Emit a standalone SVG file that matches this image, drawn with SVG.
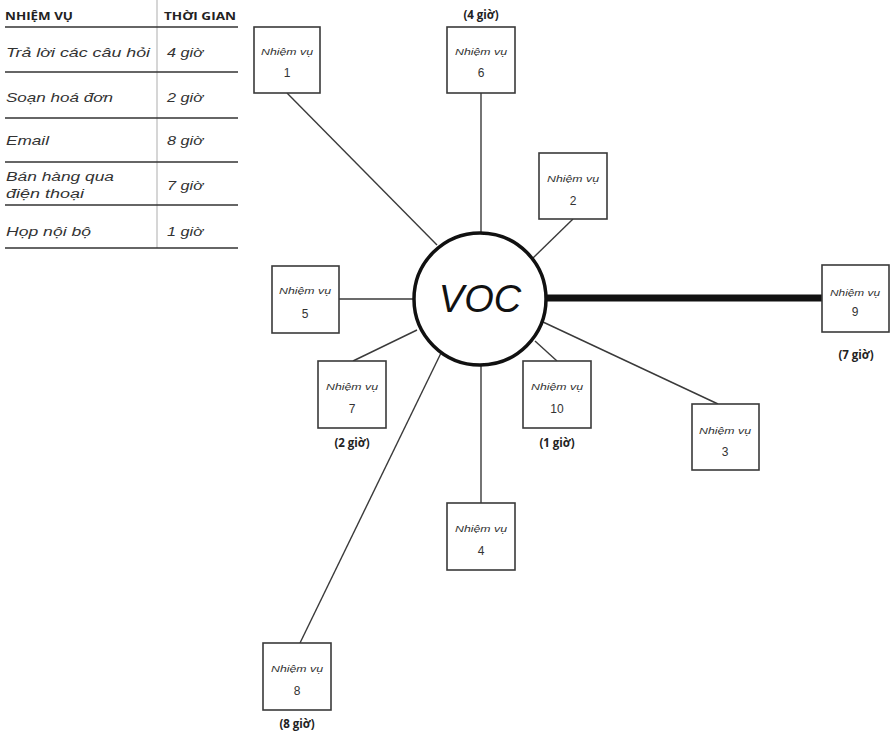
<svg xmlns="http://www.w3.org/2000/svg" width="891" height="734" viewBox="0 0 891 734">
<style>
.bg{fill:#fff}
.box{fill:#fff;stroke:#3a3a3a;stroke-width:1.6}
.lbl{font-family:"Liberation Sans",sans-serif;font-style:italic;font-size:9.5px;fill:#333;text-anchor:middle}
.num{font-family:"Liberation Sans",sans-serif;font-size:12px;fill:#333;text-anchor:middle}
.hrs{font-family:"Open Sans","Liberation Sans",sans-serif;font-weight:bold;font-size:11.5px;fill:#222;text-anchor:middle}
.con{stroke:#3a3a3a;stroke-width:1.4;fill:none}
.th{font-family:"Open Sans","Liberation Sans",sans-serif;font-weight:bold;font-size:10.5px;fill:#222}
.td{font-family:"Liberation Sans",sans-serif;font-style:italic;font-size:13px;fill:#333}
.td2{font-family:"Liberation Sans",sans-serif;font-style:italic;font-size:12px;fill:#333}
.rule{stroke:#333;stroke-width:1.5}
</style>
<rect class="bg" x="0" y="0" width="891" height="734"/>
<g id="table">
  <line x1="157" y1="0" x2="157" y2="248" stroke="#bbb" stroke-width="1.2"/>
  <text class="th" x="5" y="20" textLength="68" lengthAdjust="spacingAndGlyphs">NHIỆM VỤ</text>
  <text class="th" x="164" y="20" textLength="72" lengthAdjust="spacingAndGlyphs">THỜI GIAN</text>
  <line class="rule" x1="5" y1="27" x2="238" y2="27"/>
  <text class="td" x="6" y="57" textLength="144" lengthAdjust="spacingAndGlyphs">Trả lời các câu hỏi</text>
  <text class="td" x="167" y="57" textLength="36" lengthAdjust="spacingAndGlyphs">4 giờ</text>
  <line class="rule" x1="5" y1="72" x2="238" y2="72"/>
  <text class="td" x="6" y="102" textLength="107" lengthAdjust="spacingAndGlyphs">Soạn hoá đơn</text>
  <text class="td" x="167" y="102" textLength="36" lengthAdjust="spacingAndGlyphs">2 giờ</text>
  <line class="rule" x1="5" y1="118" x2="238" y2="118"/>
  <text class="td" x="6" y="145" textLength="43" lengthAdjust="spacingAndGlyphs">Email</text>
  <text class="td" x="167" y="145" textLength="36" lengthAdjust="spacingAndGlyphs">8 giờ</text>
  <line class="rule" x1="5" y1="162" x2="238" y2="162"/>
  <text class="td2" x="6" y="181" textLength="108" lengthAdjust="spacingAndGlyphs">Bán hàng qua</text>
  <text class="td2" x="6" y="198" textLength="78" lengthAdjust="spacingAndGlyphs">điện thoại</text>
  <text class="td" x="167" y="190" textLength="36" lengthAdjust="spacingAndGlyphs">7 giờ</text>
  <line class="rule" x1="5" y1="205" x2="238" y2="205"/>
  <text class="td" x="6" y="236" textLength="85" lengthAdjust="spacingAndGlyphs">Họp nội bộ</text>
  <text class="td" x="167" y="236" textLength="36" lengthAdjust="spacingAndGlyphs">1 giờ</text>
  <line class="rule" x1="5" y1="248" x2="238" y2="248"/>
</g>
<g id="connectors">
  <line class="con" x1="287" y1="93" x2="437" y2="245"/>
  <line class="con" x1="481" y1="93" x2="481" y2="233"/>
  <line class="con" x1="573" y1="219" x2="533" y2="258"/>
  <line class="con" x1="339" y1="299" x2="414" y2="299"/>
  <line class="con" x1="353" y1="361" x2="417" y2="330"/>
  <line class="con" x1="557" y1="361" x2="535" y2="341"/>
  <line class="con" x1="718" y1="404" x2="543" y2="322"/>
  <line class="con" x1="481" y1="503" x2="481" y2="365"/>
  <line class="con" x1="300" y1="643" x2="441" y2="353"/>
  <line x1="546" y1="298" x2="822" y2="298" stroke="#111" stroke-width="7"/>
</g>
<g id="voc">
  <circle cx="480" cy="299" r="66" fill="#fff" stroke="#111" stroke-width="3.5"/>
  <text x="480" y="312" font-family="Liberation Sans, sans-serif" font-style="italic" font-size="38" fill="#111" text-anchor="middle">VOC</text>
</g>
<g id="n1"><rect class="box" x="254" y="27" width="66" height="66"/><text class="lbl" x="287" y="55" textLength="52" lengthAdjust="spacingAndGlyphs">Nhiệm vụ</text><text class="num" x="287" y="77">1</text></g>
<g id="n6"><rect class="box" x="447" y="27" width="68" height="66"/><text class="lbl" x="481" y="55" textLength="52" lengthAdjust="spacingAndGlyphs">Nhiệm vụ</text><text class="num" x="481" y="77">6</text><text class="hrs" x="481" y="19">(4 giờ)</text></g>
<g id="n2"><rect class="box" x="539" y="153" width="68" height="66"/><text class="lbl" x="573" y="182" textLength="52" lengthAdjust="spacingAndGlyphs">Nhiệm vụ</text><text class="num" x="573" y="205">2</text></g>
<g id="n5"><rect class="box" x="272" y="266" width="67" height="67"/><text class="lbl" x="305" y="294" textLength="52" lengthAdjust="spacingAndGlyphs">Nhiệm vụ</text><text class="num" x="305" y="318">5</text></g>
<g id="n9"><rect class="box" x="822" y="265" width="67" height="67"/><text class="lbl" x="855" y="296" textLength="50" lengthAdjust="spacingAndGlyphs">Nhiệm vụ</text><text class="num" x="855" y="316">9</text><text class="hrs" x="856" y="359">(7 giờ)</text></g>
<g id="n7"><rect class="box" x="318" y="361" width="68" height="67"/><text class="lbl" x="352" y="390" textLength="52" lengthAdjust="spacingAndGlyphs">Nhiệm vụ</text><text class="num" x="352" y="413">7</text><text class="hrs" x="352" y="447">(2 giờ)</text></g>
<g id="n10"><rect class="box" x="523" y="361" width="68" height="67"/><text class="lbl" x="557" y="390" textLength="52" lengthAdjust="spacingAndGlyphs">Nhiệm vụ</text><text class="num" x="557" y="413">10</text><text class="hrs" x="557" y="447">(1 giờ)</text></g>
<g id="n3"><rect class="box" x="692" y="404" width="67" height="66"/><text class="lbl" x="725" y="434" textLength="52" lengthAdjust="spacingAndGlyphs">Nhiệm vụ</text><text class="num" x="725" y="456">3</text></g>
<g id="n4"><rect class="box" x="447" y="503" width="68" height="67"/><text class="lbl" x="481" y="532" textLength="52" lengthAdjust="spacingAndGlyphs">Nhiệm vụ</text><text class="num" x="481" y="555">4</text></g>
<g id="n8"><rect class="box" x="263" y="643" width="68" height="67"/><text class="lbl" x="297" y="672" textLength="52" lengthAdjust="spacingAndGlyphs">Nhiệm vụ</text><text class="num" x="297" y="695">8</text><text class="hrs" x="297" y="728">(8 giờ)</text></g>
</svg>
